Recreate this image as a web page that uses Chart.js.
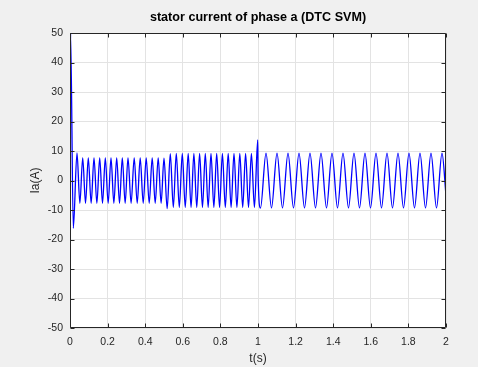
<html>
<head>
    <title>stator current of phase a (DTC SVM)</title>
    <script src="https://cdn.jsdelivr.net/npm/chart.js@4.4.0/dist/chart.umd.min.js"></script>
    <style>
        body { margin: 0; background: #f0f0f0; }
    </style>
</head>
<body>
<canvas id="currentChart" width="478" height="367"></canvas>
</body>
</html>

<script>
  // peaks / troughs of the phase-a current
  const timeS = [
    0, 0.003, 0.0176, 0.0372,
    0.0524, 0.0676, 0.0825, 0.0973, 0.1125, 0.1277, 0.1429, 0.1580, 0.1729, 0.1878,
    0.2030, 0.2181, 0.2333, 0.2484, 0.2633, 0.2782, 0.2934, 0.3085, 0.3250, 0.3415,
    0.3575, 0.3734, 0.3894, 0.4053, 0.4213, 0.4372, 0.4532, 0.4691, 0.4846, 0.5000,
    0.5168, 0.5335, 0.5495, 0.5654, 0.5814, 0.5973, 0.6130, 0.6287, 0.6439, 0.6590,
    0.6742, 0.6894, 0.7046, 0.7197, 0.7349, 0.7500, 0.7652, 0.7803, 0.7955, 0.8106,
    0.8261, 0.8415, 0.8569, 0.8723, 0.8878, 0.9032, 0.9186, 0.9340, 0.9495, 0.9649,
    0.9810, 0.9985, 1.0005,
    1.0133, 1.0426, 1.0718, 1.1011, 1.1303, 1.1596, 1.1888, 1.2181, 1.2473, 1.2766,
    1.3059, 1.3351, 1.3644, 1.3936, 1.4229, 1.4521, 1.4814, 1.5106, 1.5399, 1.5691,
    1.5984, 1.6277, 1.6569, 1.6862, 1.7154, 1.7447, 1.7739, 1.8032, 1.8324, 1.8617,
    1.8910, 1.9202, 1.9495, 1.9787, 2.0
  ]
  const currentA = [
    0, 50, -16.2, 9.4,
    -7.7, 7.7, -7.7, 7.7, -7.7, 7.7, -7.7, 7.7, -7.7, 7.7,
    -7.7, 7.7, -7.7, 7.7, -7.7, 7.7, -7.7, 7.7, -7.7, 7.7,
    -7.7, 7.7, -7.7, 7.7, -7.7, 7.7, -7.7, 7.7, -7.7, 7.6,
    -9.5, 9.1, -9.1, 9.2, -9.1, 9.2, -9.1, 9.2, -9.1, 9.2,
    -9.1, 9.2, -9.1, 9.2, -9.1, 9.2, -9.1, 9.2, -9.1, 9.2,
    -9.1, 9.2, -9.1, 9.2, -9.1, 9.2, -9.1, 9.2, -9.1, 9.2,
    -9.1, 13.8, 2,
    -9.3, 9.3, -9.3, 9.3, -9.3, 9.3, -9.3, 9.3, -9.3, 9.3,
    -9.3, 9.3, -9.3, 9.3, -9.3, 9.3, -9.3, 9.3, -9.3, 9.3,
    -9.3, 9.3, -9.3, 9.3, -9.3, 9.3, -9.3, 9.3, -9.3, 9.3,
    -9.3, 9.3, -9.3, 9.3, -5
  ]
  const xTicks = [0, 0.2, 0.4, 0.6, 0.8, 1, 1.2, 1.4, 1.6, 1.8, 2]
  const yTicks = [-50, -40, -30, -20, -10, 0, 10, 20, 30, 40, 50]

  const axisColor = '#262626'
  const fontFamily = "'Liberation Sans', Arial, Helvetica, sans-serif"

  // matlab style: grey figure, white axes, box with inward ticks
  const matlabBox = {
    id: 'matlabBox',
    beforeDraw(chart) {
      const ctx = chart.ctx
      const a = chart.chartArea
      ctx.save()
      ctx.fillStyle = '#f0f0f0'
      ctx.fillRect(0, 0, chart.width, chart.height)
      ctx.fillStyle = '#ffffff'
      ctx.fillRect(a.left, a.top, a.right - a.left, a.bottom - a.top)
      ctx.restore()
    },
    afterDraw(chart) {
      const ctx = chart.ctx
      const a = chart.chartArea
      const xs = chart.scales.x
      const ys = chart.scales.y
      const len = 4
      const l = Math.round(a.left) + 0.5
      const r = Math.round(a.right) - 0.5
      const t = Math.round(a.top) + 0.5
      const b = Math.round(a.bottom) - 0.5
      ctx.save()
      ctx.strokeStyle = axisColor
      ctx.lineWidth = 1
      ctx.beginPath()
      xTicks.forEach(v => {
        const px = Math.round(xs.getPixelForValue(v)) + 0.5
        ctx.moveTo(px, b); ctx.lineTo(px, b - len)
        ctx.moveTo(px, t); ctx.lineTo(px, t + len)
      })
      yTicks.forEach(v => {
        const py = Math.round(ys.getPixelForValue(v)) + 0.5
        ctx.moveTo(l, py); ctx.lineTo(l + len, py)
        ctx.moveTo(r, py); ctx.lineTo(r - len, py)
      })
      ctx.moveTo(l, t); ctx.lineTo(r, t); ctx.lineTo(r, b); ctx.lineTo(l, b); ctx.closePath()
      ctx.stroke()
      ctx.restore()
    }
  }

  let points = []
  for (let i = 0; i < timeS.length; i++) {
    points.push({x: timeS[i], y: currentA[i]})
  }

  new Chart(document.getElementById('currentChart'), {
    type: 'line',
    data: {
      datasets: [
        {
          label: 'Ia',
          data: points,
          borderColor: '#0000ff',
          borderWidth: 1.3,
          pointRadius: 0,
          fill: false,
          cubicInterpolationMode: 'monotone',
        }
      ]
    },
    options: {
      responsive: false,
      animation: false,
      layout: {padding: {top: 0, right: 32, bottom: 0, left: 0}},
      plugins: {
        legend: {display: false},
        tooltip: {enabled: false},
        title: {
          display: true,
          fullSize: false,
          text: 'stator current of phase a (DTC SVM)',
          color: '#000000',
          font: {family: fontFamily, size: 12.6, weight: 'bold'},
          padding: {top: 10, bottom: 8}
        }
      },
      scales: {
        x: {
          type: 'linear',
          min: 0,
          max: 2,
          afterBuildTicks: s => { s.ticks = xTicks.map(v => ({value: v})) },
          afterFit: s => { s.height = 39 },
          grid: {color: '#e3e3e3', drawTicks: false},
          border: {display: false},
          ticks: {
            color: axisColor,
            padding: 8,
            maxRotation: 0,
            font: {family: fontFamily, size: 10.5},
            callback: v => String(v)
          },
          title: {
            display: true,
            text: 't(s)',
            color: axisColor,
            font: {family: fontFamily, size: 12},
            padding: {top: 0, bottom: 1}
          }
        },
        y: {
          min: -50,
          max: 50,
          afterBuildTicks: s => { s.ticks = yTicks.map(v => ({value: v})) },
          afterFit: s => { s.width = 70 },
          grid: {color: '#e3e3e3', drawTicks: false},
          border: {display: false},
          ticks: {
            color: axisColor,
            padding: 7,
            font: {family: fontFamily, size: 10.5},
            callback: v => String(v)
          },
          title: {
            display: true,
            text: 'Ia(A)',
            color: axisColor,
            font: {family: fontFamily, size: 12},
            padding: {top: 28, bottom: 0}
          }
        }
      }
    },
    plugins: [matlabBox]
  })
</script>
